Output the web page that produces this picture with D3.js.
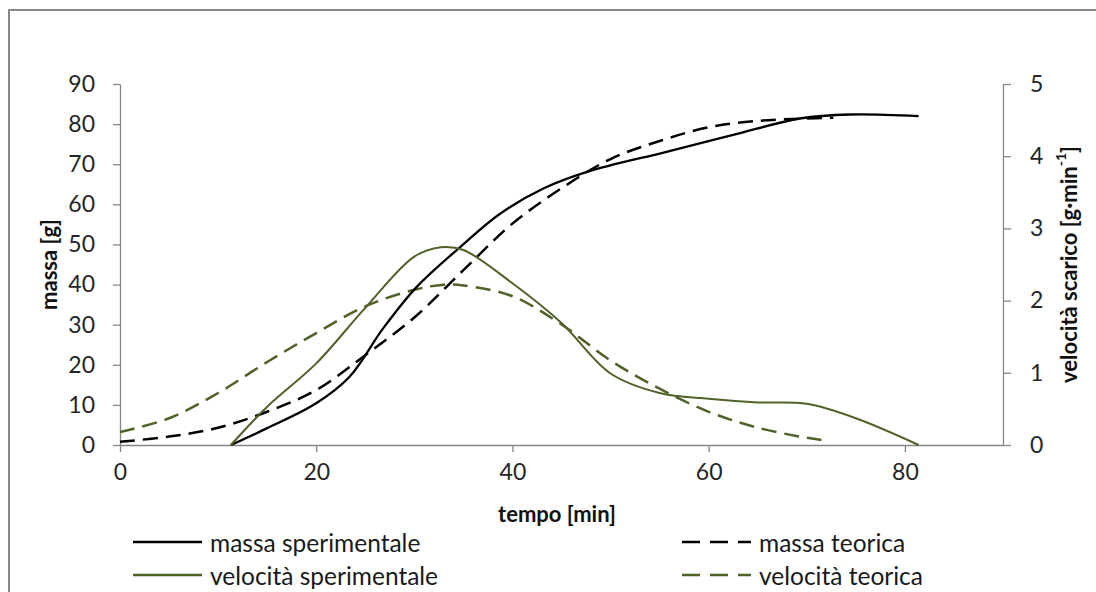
<!DOCTYPE html>
<html>
<head>
<meta charset="utf-8">
<script src="https://cdn.jsdelivr.net/npm/d3@7"></script>
<style>
  html, body { margin: 0; padding: 0; background: #fff; }
  svg { display: block; }
  text { font-family: Lato, "Open Sans", sans-serif; }
</style>
</head>
<body>
<svg id="chart" width="1096" height="592"></svg>
<script>
// ---- data ----
const xTicks = [0, 20, 40, 60, 80];
const yLeftTicks = [0, 10, 20, 30, 40, 50, 60, 70, 80, 90];
const yRightTicks = [0, 1, 2, 3, 4, 5];

const massaSperT = [11.3, 15, 20, 23.4, 26.8, 30.2, 34.7, 38.7, 43.2, 47.6, 55.7, 62.5, 69.3, 74.4, 81.4];
const massaSperV = [0, 4.2, 10.4, 17, 29, 39.3, 49.4, 57.6, 64, 68.1, 73.1, 77.3, 81.4, 82.4, 82];

const massaTeorT = [0, 5, 10, 15, 20, 25, 30, 35, 40, 45, 50, 55, 60, 65, 70, 72.7];
const massaTeorV = [0.8, 2.1, 4.3, 8.3, 13.7, 22.4, 31.8, 43.6, 55.2, 64, 71.3, 75.8, 79.2, 80.8, 81.4, 81.6];

const velSperT = [11.3, 15, 20, 25, 30, 32.7, 35, 40, 45, 50, 55, 60, 65, 70, 75, 81.4];
const velSperV = [0, 0.53, 1.13, 1.9, 2.61, 2.74, 2.7, 2.24, 1.69, 0.99, 0.72, 0.64, 0.59, 0.57, 0.37, 0];

const velTeorT = [0, 5, 10, 15, 20, 25, 30, 33, 35, 40, 45, 50, 55, 60, 65, 70, 71.5];
const velTeorV = [0.18, 0.37, 0.72, 1.15, 1.55, 1.92, 2.15, 2.22, 2.21, 2.06, 1.67, 1.17, 0.78, 0.46, 0.24, 0.1, 0.07];

const legendLabels = ["massa sperimentale", "massa teorica", "velocità sperimentale", "velocità teorica"];

// ---- layout ----
const svg = d3.select("#chart");
const X0 = 120, X1 = 1003, Y0 = 445, Y1 = 84;
const axisColor = "#868686";
const green = "#4F6228";

const x = d3.scaleLinear().domain([0, 90]).range([X0, X1]);
const yL = d3.scaleLinear().domain([0, 90]).range([Y0, Y1]);
const yR = d3.scaleLinear().domain([0, 5]).range([Y0, Y1]);

// outer frame
svg.append("rect").attr("x", 9).attr("y", 10).attr("width", 1200).attr("height", 700)
  .attr("fill", "none").attr("stroke", "#898989").attr("stroke-width", 2);

function styleAxis(g) {
  g.select(".domain").attr("stroke", axisColor).attr("stroke-width", 1.3);
  g.selectAll(".tick line").attr("stroke", axisColor).attr("stroke-width", 1.3);
  g.selectAll(".tick text").attr("fill", "#262626").style("font-size", "23px")
    .style("font-family", "Lato, 'Open Sans', sans-serif");
}

const gx = svg.append("g").attr("transform", `translate(0,${Y0})`)
  .call(d3.axisBottom(x).tickValues(xTicks).tickFormat(d3.format("d"))
    .tickSize(7).tickPadding(12).tickSizeOuter(0));
styleAxis(gx);

const gl = svg.append("g").attr("transform", `translate(${X0},0)`)
  .call(d3.axisLeft(yL).tickValues(yLeftTicks).tickFormat(d3.format("d"))
    .tickSize(7).tickPadding(18).tickSizeOuter(0));
styleAxis(gl);

const gr = svg.append("g").attr("transform", `translate(${X1},0)`)
  .call(d3.axisRight(yR).tickValues(yRightTicks).tickFormat(d3.format("d"))
    .tickSize(8).tickPadding(19).tickSizeOuter(0));
styleAxis(gr);

// axis titles
svg.append("text").attr("x", 557).attr("y", 522).attr("text-anchor", "middle")
  .style("font-size", "22px").style("font-weight", "bold").attr("fill", "#111")
  .text("tempo [min]");

svg.append("text").attr("transform", `translate(48,${(Y0 + Y1) / 2}) rotate(-90)`)
  .attr("text-anchor", "middle").attr("dominant-baseline", "central")
  .style("font-size", "22px").style("font-weight", "bold").attr("fill", "#111")
  .text("massa [g]");

const rt = svg.append("text").attr("transform", `translate(1068,${(Y0 + Y1) / 2}) rotate(-90)`)
  .attr("text-anchor", "middle").attr("dominant-baseline", "central")
  .style("font-size", "22px").style("font-weight", "bold").attr("fill", "#111");
rt.append("tspan").text("velocità scarico [g·min");
rt.append("tspan").attr("dy", -8).style("font-size", "14px").text("-1");
rt.append("tspan").attr("dy", 8).text("]");

// series
function pts(ts, vs) { return ts.map((t, i) => [t, vs[i]]); }
const series = [
  { data: pts(massaTeorT, massaTeorV), y: yL, color: "#000", w: 2.5, dash: "15,8" },
  { data: pts(velTeorT, velTeorV), y: yR, color: green, w: 2.5, dash: "15,8" },
  { data: pts(massaSperT, massaSperV), y: yL, color: "#000", w: 2.3, dash: null },
  { data: pts(velSperT, velSperV), y: yR, color: green, w: 2, dash: null }
];
series.forEach(s => {
  const line = d3.line().x(d => x(d[0])).y(d => s.y(d[1])).curve(d3.curveCatmullRom.alpha(0.5));
  svg.append("path").attr("d", line(s.data)).attr("fill", "none")
    .attr("stroke", s.color).attr("stroke-width", s.w)
    .attr("stroke-dasharray", s.dash);
});

// legend
const legendItems = [
  { label: legendLabels[0], color: "#000", dash: null, x: 133, y: 542 },
  { label: legendLabels[1], color: "#000", dash: "18,10", x: 682, y: 542 },
  { label: legendLabels[2], color: green, dash: null, x: 133, y: 575 },
  { label: legendLabels[3], color: green, dash: "18,10", x: 682, y: 575 }
];
legendItems.forEach(it => {
  svg.append("line").attr("x1", it.x).attr("x2", it.x + 69).attr("y1", it.y).attr("y2", it.y)
    .attr("stroke", it.color).attr("stroke-width", 2.5).attr("stroke-dasharray", it.dash);
  svg.append("text").attr("x", it.x + 77).attr("y", it.y).attr("dominant-baseline", "central")
    .style("font-size", "24.5px").attr("fill", "#1a1a1a").text(it.label);
});
</script>
</body>
</html>
